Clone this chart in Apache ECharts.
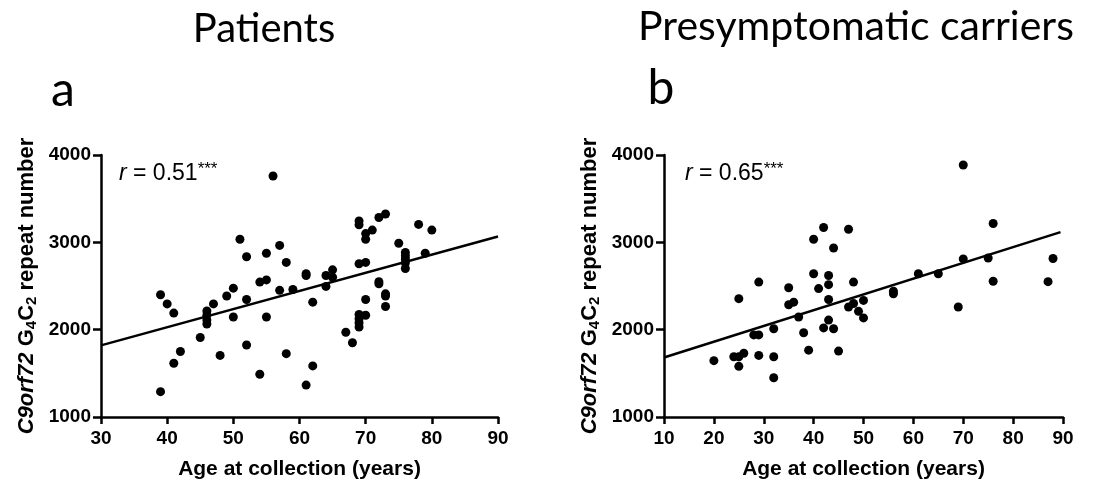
<!DOCTYPE html>
<html><head><meta charset="utf-8">
<script src="https://cdn.jsdelivr.net/npm/echarts@6/dist/echarts.min.js"></script>
<style>html,body{margin:0;padding:0;background:#fff}#c{width:1115px;height:485px}</style>
</head><body><div id="c"></div>
<script>
// Panel a: Patients
const patientsAge = [39,40,41,41,42,39,45,46,46,46,46,47,48,49,50,50,51,52,52,52,54,55,55,55,54,56,57,57,58,58,59,61,61,61,62,62,64,64,65,65,67,68,69,69,69,69,69,69,69,70,70,70,70,70,71,72,73,72,72,73,73,73,75,76,76,76,76,76,78,79,80];
const patientsRepeats = [2400,2295,2190,1615,1750,1290,1910,2215,2165,2110,2065,2295,1705,2385,2475,2145,3035,2835,2345,1825,2545,2570,2875,2145,1490,3760,2965,2450,2770,1725,2460,2640,2620,1365,2315,1585,2620,2495,2685,2600,1970,1850,3245,3200,2755,2175,2125,2080,2030,3100,3035,2770,2345,2165,3140,3285,3325,2550,2525,2410,2385,2265,2990,2885,2845,2810,2765,2700,3205,2875,3140];
// Panel b: Presymptomatic carriers
const carriersAge = [20,24,25,25,25,26,28,29,29,29,32,32,32,35,35,36,37,38,39,40,40,41,42,42,43,43,43,43,44,44,45,47,47,48,48,49,50,50,56,56,61,65,69,70,70,75,76,76,87,88];
const carriersRepeats = [1645,1690,1690,1580,2355,1730,1940,1940,2545,1705,2010,1690,1450,2480,2285,2315,2145,1965,1765,3035,2640,2470,3170,2020,2620,2515,2345,2110,2935,2010,1755,3150,2260,2545,2300,2210,2335,2135,2440,2410,2640,2640,2260,3885,2810,2820,3215,2555,2550,2815];
// Regression line endpoints (age, repeats)
const fitPatientsAge = [30, 90];
const fitPatientsRepeats = [1820, 3066];
const fitCarriersAge = [10, 89.5];
const fitCarriersRepeats = [1682, 3117];
// Axis ranges / ticks
const yTicks = [1000, 2000, 3000, 4000];
const xRangeA = [30, 90];
const xRangeB = [10, 90];
const titles = ['Patients', 'Presymptomatic carriers'];
const panelLetters = ['a', 'b'];
const rLabels = ['0.51', '0.65'];

const zip = (a, b) => a.map((v, i) => [v, b[i]]);

const AXF = '"Liberation Sans", Arial, sans-serif';
function xAxis(idx, range) {
  return {
    type: 'value', gridIndex: idx, min: range[0], max: range[1], interval: 10,
    name: 'Age at collection (years)', nameLocation: 'middle', nameGap: 42,
    nameTextStyle: { color: '#000', fontWeight: 'bold', fontSize: 21, fontFamily: AXF },
    axisLine: { show: true, onZero: false, lineStyle: { color: '#000', width: 2.5 } },
    axisTick: { show: true, length: 7, lineStyle: { color: '#000', width: 2.5 } },
    axisLabel: { color: '#000', fontWeight: 'bold', fontSize: 19, fontFamily: AXF, margin: 12, formatter: v => String(v) },
    splitLine: { show: false }
  };
}
function yAxis(idx) {
  return {
    type: 'value', gridIndex: idx, min: yTicks[0], max: yTicks[yTicks.length - 1], interval: 1000,
    name: '{i|C9orf72} {n|G}{s|4}{n|C}{s|2}{n| repeat number}',
    nameLocation: 'middle', nameGap: 62, nameRotate: 90,
    nameTextStyle: {
      color: '#000', fontWeight: 'bold', fontSize: 22, fontFamily: AXF,
      rich: {
        i: { fontStyle: 'italic', fontWeight: 'bold', fontSize: 22, fontFamily: AXF, color: '#000', lineHeight: 25 },
        n: { fontWeight: 'bold', fontSize: 22, fontFamily: AXF, color: '#000', lineHeight: 25 },
        s: { fontWeight: 'bold', fontSize: 15, fontFamily: AXF, color: '#000', lineHeight: 15, verticalAlign: 'bottom' }
      }
    },
    axisLine: { show: true, onZero: false, lineStyle: { color: '#000', width: 2.5 } },
    axisTick: { show: true, length: 8, lineStyle: { color: '#000', width: 2.5 } },
    axisLabel: { color: '#000', fontWeight: 'bold', fontSize: 19, fontFamily: AXF, margin: 10, formatter: v => String(v) },
    splitLine: { show: false }
  };
}
function scatter(idx, data) {
  return { type: 'scatter', xAxisIndex: idx, yAxisIndex: idx, data, symbolSize: 9,
    itemStyle: { color: '#000', opacity: 1 }, silent: true };
}
function fit(idx, data) {
  return { type: 'line', xAxisIndex: idx, yAxisIndex: idx, data, symbol: 'none',
    lineStyle: { color: '#000', width: 2.5 }, silent: true, z: 3 };
}
const TF = 'Lato, Carlito, Calibri, sans-serif';
function txt(x, y, text, size, align) {
  return { type: 'text', x, y, style: { text, fontSize: size, fontFamily: TF, fill: '#000', align: align || 'center', verticalAlign: 'middle' } };
}
function rText(x, y, val) {
  return { type: 'text', x, y, style: {
    text: '{i|r}{n| = ' + val + '}{s|***}', align: 'left', verticalAlign: 'middle',
    rich: {
      i: { fontStyle: 'italic', fontSize: 23, fontFamily: AXF, fill: '#000', lineHeight: 26 },
      n: { fontSize: 23, fontFamily: AXF, fill: '#000', lineHeight: 26 },
      s: { fontSize: 17, fontFamily: AXF, fill: '#000', lineHeight: 17, verticalAlign: 'top' }
    } } };
}

const chart = echarts.init(document.getElementById('c'), null, { renderer: 'canvas' });
chart.setOption({
  animation: false,
  backgroundColor: '#fff',
  grid: [
    { left: 101, right: 617, top: 155, bottom: 66, containLabel: false },
    { left: 664, right: 52, top: 155, bottom: 66, containLabel: false }
  ],
  xAxis: [xAxis(0, xRangeA), xAxis(1, xRangeB)],
  yAxis: [yAxis(0), yAxis(1)],
  series: [
    scatter(0, zip(patientsAge, patientsRepeats)),
    fit(0, zip(fitPatientsAge, fitPatientsRepeats)),
    scatter(1, zip(carriersAge, carriersRepeats)),
    fit(1, zip(fitCarriersAge, fitCarriersRepeats))
  ],
  graphic: [
    txt(264, 29, titles[0], 40),
    txt(856, 27, titles[1], 41),
    txt(63, 91, panelLetters[0], 48),
    txt(661, 89, panelLetters[1], 48),
    rText(119, 174, rLabels[0]),
    rText(685, 174, rLabels[1])
  ]
});
</script></body></html>
